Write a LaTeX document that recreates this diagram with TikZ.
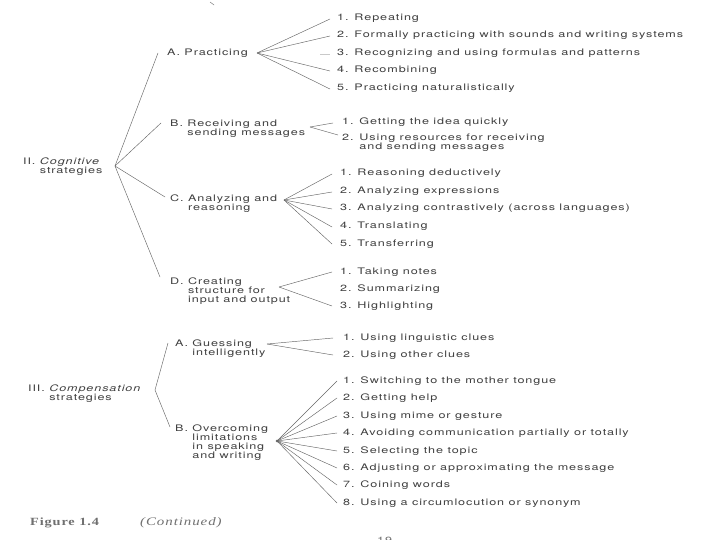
\documentclass[tikz,border=0pt]{standalone}
\usepackage{fontspec}
\setmainfont{TeX Gyre Heros}[FakeStretch=1.4,LetterSpace=10]
\newfontfamily\capfont{Liberation Serif}[FakeStretch=1.3,LetterSpace=8]

\definecolor{ink}{gray}{0.25}
\definecolor{wire}{gray}{0.4}

\tikzset{
  head/.style={anchor=base west, inner sep=0pt, align=left, text=ink,
    font=\fontsize{9}{9}\selectfont},
  block/.style={head, anchor=north west},
  leaf/.style={head, text height=6pt, text depth=2pt},
  fan/.style={draw=wire, line width=0.45pt},
}

\begin{document}
\begin{tikzpicture}[x=1pt, y=-1pt]

    % Page
    \fill[white] (0,0) rectangle (720,540);
    \useasboundingbox (0,0) rectangle (720,540);
    \draw[wire] (210,2) -- (214,5);

    % II. Cognitive strategies
    \node[block] (cog) at (23,157.5) {II. \textit{Cognitive}\\\phantom{II. }strategies};
    \coordinate (cogfan) at (115,166);

    \node[head] (prac) at (167,56) {A. Practicing};
    \node[block] (recv) at (170,119.5) {B. Receiving and\\\phantom{B. }sending messages};
    \node[block] (anal) at (170,194.5) {C. Analyzing and\\\phantom{C. }reasoning};
    \node[block] (struc) at (170,277.5) {D. Creating\\\phantom{D. }structure for\\\phantom{D. }input and output};

    \draw[fan] (cogfan) -- ([shift={(-9pt,3pt)}]prac.base west);
    \draw[fan] (cogfan) -- ([shift={(-9pt,-3.5pt)}]recv.north west);
    \draw[fan] (cogfan) -- ([shift={(-5pt,-2.5pt)}]anal.north west);
    \draw[fan] (cogfan) -- ([shift={(-10pt,0.5pt)}]struc.north west);

    % A. Practicing
    \coordinate (pracfan) at (257,53);
    \node[leaf] (prac1) at (337,21) {1. Repeating};
    \node[leaf] (prac2) at (337,38) {2. Formally practicing with sounds and writing systems};
    \node[leaf] (prac3) at (337,56) {3. Recognizing and using formulas and patterns};
    \node[leaf] (prac4) at (337,73) {4. Recombining};
    \node[leaf] (prac5) at (337,91) {5. Practicing naturalistically};
    \draw[fan] (pracfan) -- ([xshift=-7pt]prac1.west);
    \draw[fan] (pracfan) -- ([xshift=-7pt]prac2.west);
    \draw[fan, draw=wire!35] ([xshift=-17pt]prac3.west) -- ([xshift=-7pt]prac3.west);
    \draw[fan] (pracfan) -- ([xshift=-7pt]prac4.west);
    \draw[fan] (pracfan) -- ([xshift=-7pt]prac5.west);

    % B. Receiving and sending messages
    \coordinate (recvfan) at (310,127);
    \node[leaf] (recv1) at (342,125) {1. Getting the idea quickly};
    \node[block] (recv2) at (342,133.5) {2. Using resources for receiving\\\phantom{2. }and sending messages};
    \draw[fan] (recvfan) -- ([xshift=-9pt]recv1.west);
    \draw[fan] (recvfan) -- ([shift={(-4pt,-1.5pt)}]recv2.north west);

    % C. Analyzing and reasoning
    \coordinate (analfan) at (284,200);
    \node[leaf] (anal1) at (340,176) {1. Reasoning deductively};
    \node[leaf] (anal2) at (340,194) {2. Analyzing expressions};
    \node[leaf] (anal3) at (340,211) {3. Analyzing contrastively (across languages)};
    \node[leaf] (anal4) at (340,229) {4. Translating};
    \node[leaf] (anal5) at (340,246) {5. Transferring};
    \draw[fan] (analfan) -- ([xshift=-8pt]anal1.west);
    \draw[fan] (analfan) -- ([xshift=-8pt]anal2.west);
    \draw[fan] (analfan) -- ([xshift=-8pt]anal3.west);
    \draw[fan] (analfan) -- ([xshift=-8pt]anal4.west);
    \draw[fan] (analfan) -- ([xshift=-8pt]anal5.west);

    % D. Creating structure
    \coordinate (strucfan) at (279,287);
    \node[leaf] (struc1) at (340,274) {1. Taking notes};
    \node[leaf] (struc2) at (340,291) {2. Summarizing};
    \node[leaf] (struc3) at (340,308) {3. Highlighting};
    \draw[fan] (strucfan) -- ([xshift=-8pt]struc1.west);
    \draw[fan] (strucfan) -- ([xshift=-8pt]struc3.west);

    % III. Compensation strategies
    \node[block] (comp) at (28,384.5) {III. \textit{Compensation}\\\phantom{III. }strategies};
    \coordinate (compfan) at (155,390);

    \node[block] (guess) at (175,339.5) {A. Guessing\\\phantom{A. }intelligently};
    \node[block] (over) at (175,424.5) {B. Overcoming\\\phantom{B. }limitations\\\phantom{B. }in speaking\\\phantom{B. }and writing};

    \draw[fan] ([shift={(-7pt,-3.5pt)}]guess.north west) -- (compfan) -- ([shift={(-5pt,-2.5pt)}]over.north west);

    % A. Guessing intelligently
    \coordinate (guessfan) at (267,344);
    \node[leaf] (guess1) at (343,340) {1. Using linguistic clues};
    \node[leaf] (guess2) at (343,357) {2. Using other clues};
    \draw[fan] (guessfan) -- ([xshift=-10pt]guess1.west);
    \draw[fan] (guessfan) -- ([xshift=-10pt]guess2.west);

    % B. Overcoming limitations
    \coordinate (overfan) at (277,441);
    \node[leaf] (over1) at (343,383) {1. Switching to the mother tongue};
    \node[leaf] (over2) at (343,400) {2. Getting help};
    \node[leaf] (over3) at (343,418) {3. Using mime or gesture};
    \node[leaf] (over4) at (343,435) {4. Avoiding communication partially or totally};
    \node[leaf] (over5) at (343,453) {5. Selecting the topic};
    \node[leaf] (over6) at (343,470) {6. Adjusting or approximating the message};
    \node[leaf] (over7) at (343,487) {7. Coining words};
    \node[leaf] (over8) at (343,505) {8. Using a circumlocution or synonym};
    \draw[fan] (overfan) -- ([xshift=-6pt]over1.west);
    \draw[fan] (overfan) -- ([xshift=-6pt]over2.west);
    \draw[fan] (overfan) -- ([xshift=-6pt]over3.west);
    \draw[fan] (overfan) -- ([xshift=-6pt]over4.west);
    \draw[fan] (overfan) -- ([xshift=-6pt]over5.west);
    \draw[fan] (overfan) -- ([xshift=-6pt]over6.west);
    \draw[fan] (overfan) -- ([xshift=-6pt]over7.west);
    \draw[fan] (overfan) -- ([xshift=-6pt]over8.west);
    \fill[wire] (overfan) circle (1.5pt);

    % Caption and page number
    \node[head, text=ink!75, font=\capfont\fontsize{11}{12}\selectfont] (fig) at (30,525) {\textbf{Figure 1.4}};
    \node[head, text=ink!75, font=\capfont\fontsize{11.5}{12}\selectfont] (cont) at (140,525) {\textit{(Continued)}};
    \node[head, text=ink!75] (page) at (377,543) {19};

\end{tikzpicture}
\end{document}
